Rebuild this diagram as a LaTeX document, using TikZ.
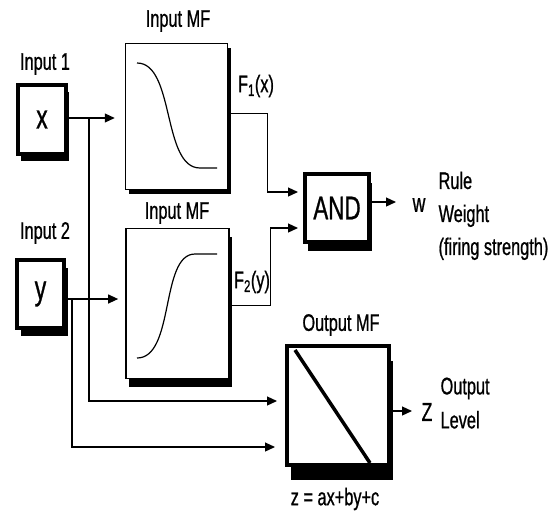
\documentclass[tikz,border=0pt]{standalone}
\usepackage{fontspec}
\setmainfont{Liberation Sans}[FakeStretch=0.68,FakeBold=0.8]
\usetikzlibrary{arrows.meta,shadows}

\tikzset{
  sh/.style 2 args={drop shadow={opacity=1,fill=black,shadow xshift=#1,shadow yshift=#2}},
  varbox/.style={draw,fill=white,line width=4pt,inner sep=0pt,font=\fontsize{34}{34}\selectfont},
  mfbox/.style={draw,fill=white,line width=1.5pt,inner sep=0pt},
  lbl/.style={inner sep=0pt,font=\fontsize{24}{28}\selectfont},
}

\begin{document}
\begin{tikzpicture}[x=1pt,y=-1pt,line width=1.2pt,>={Triangle[length=10pt,width=9pt]}]
\useasboundingbox (0,0) rectangle (548,512);

% inputs
\node[varbox,sh={3pt}{-7pt},minimum width=48pt,minimum height=69pt] (inx) at (42,119.5) {x};
\node[varbox,sh={4pt}{-8pt},minimum width=47pt,minimum height=68pt] (iny) at (40.5,294) {y};
\node[lbl] (lx) at (45,64) {Input 1};
\node[lbl] (ly) at (45,233) {Input 2};

% membership functions
\node[mfbox,sh={3pt}{-4.5pt},minimum width=102pt,minimum height=146pt] (mfx) at (176.5,116.6) {};
\node[mfbox,sh={3pt}{-8pt},minimum width=103pt,minimum height=150pt] (mfy) at (177.4,303.6) {};
\node[lbl] (lmfx) at (178,21) {Input MF};
\node[lbl] (lmfy) at (177,213) {Input MF};
\draw (137,63) .. controls (175,63) and (162,168) .. (200,168) -- (217,168);
\draw (137,358) .. controls (175,358) and (160,254) .. (195,254) -- (217,254);
\node[lbl] (fx) at (256,86) {F\textsubscript{1}(x)};
\node[lbl] (fy) at (252,282) {F\textsubscript{2}(y)};

% rule
\node[varbox,sh={3pt}{-9pt},minimum width=64pt,minimum height=68pt,font=\fontsize{33}{33}\selectfont] (andg) at (337,208) {AND};
\node[lbl,font=\fontsize{26}{26}\selectfont] (w) at (419,205) {w};
\node[lbl,anchor=north west,align=left,font=\fontsize{24}{33}\selectfont] (rw) at (438,171) {Rule\\Weight\\(firing strength)};

% output
\node[varbox,sh={4pt}{-15pt},minimum width=102pt,minimum height=119pt] (outmf) at (338,405.5) {};
\draw[line width=3.5pt] (295,350) -- (370,463);
\node[lbl] (lout) at (341,325) {Output MF};
\node[lbl] (eq) at (335,499) {z = ax+by+c};
\node[lbl,font=\fontsize{26}{26}\selectfont] (Z) at (427,412) {Z};
\node[lbl,anchor=north west,align=left,font=\fontsize{24}{34}\selectfont] (lvl) at (440,377) {Output\\Level};

% connectors
\coordinate (jx) at (89,118);
\coordinate (jy) at (72,299);
\coordinate (o1) at (0,401);
\coordinate (o2) at (0,447);
\draw[->,shorten >=10pt] (inx.east |- jx) -- (jx -| mfx.west);
\draw[->,shorten >=8pt] (jx) |- (o1 -| outmf.west);
\draw[->,shorten >=7pt] (iny.east |- jy) -- (jy -| mfy.west);
\draw[->,shorten >=10pt] (jy) |- (o2 -| outmf.west);
\draw[->,shorten >=5pt] ([yshift=3.5pt]mfx.east) -- ++(39,0) |- ([yshift=16pt]andg.west);
\draw[->,shorten >=5pt] ([yshift=-1.5pt]mfy.east) -- ++(41,0) |- ([yshift=-20pt]andg.west);
\draw[->] ([yshift=6pt]andg.east) -- ++(25,0);
\draw[->] ([yshift=-5.5pt]outmf.east) -- ++(21,0);
\end{tikzpicture}
\end{document}
